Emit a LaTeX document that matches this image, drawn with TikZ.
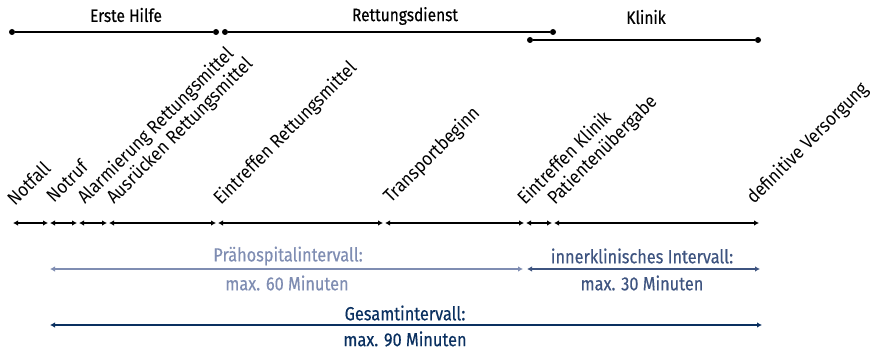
\documentclass[tikz,border=0pt]{standalone}
\usepackage{fontspec}
\setmainfont{Fira Sans}[FakeStretch=0.86,FakeBold=0.4]
\newfontfamily\leicht{Fira Sans}[FakeStretch=0.9]
\usetikzlibrary{arrows.meta}
\definecolor{praeblau}{RGB}{127,141,178}
\definecolor{klinikblau}{RGB}{62,84,128}
\definecolor{gesamtblau}{RGB}{10,48,96}

\begin{document}
\begin{tikzpicture}[x=1pt,y=-1pt,
  punkt/.style={circle,fill=black,inner sep=0pt,minimum size=6pt},
  phase/.style={line width=1.5pt,black},
  titel/.style={font=\fontsize{18}{18}\selectfont},
  ereignis/.style={rotate=45,anchor=base west,inner sep=0pt,font=\leicht\fontsize{18.8}{18.8}\selectfont},
  zeit/.style={line width=1.5pt,{Latex[length=5pt,width=5.5pt]}-{Latex[length=5pt,width=5.5pt]},shorten <=1pt,shorten >=1pt},
  intervall/.style={line width=1.7pt,{Latex[length=5pt,width=5.5pt]}-{Latex[length=5pt,width=5.5pt]}},
  info/.style={font=\fontsize{19}{19}\selectfont,align=center}]
\useasboundingbox (0,0) rectangle (874,353); % taille de l'image
% les phases en haut
\node[punkt] (eh1) at (12,32) {};
\node[punkt] (eh2) at (216,32) {};
\node[punkt] (rd1) at (225,32) {};
\node[punkt] (rd2) at (553,32) {};
\node[punkt] (kl1) at (530,40) {};
\node[punkt] (kl2) at (758,40) {};
\draw[phase] (eh1)--(eh2);
\draw[phase] (rd1)--(rd2);
\draw[phase] (kl1)--(kl2);
\node[titel] (ehtext) at (126,15) {Erste Hilfe};
\node[titel] (rdtext) at (405,16) {Rettungsdienst};
\node[titel] (kltext) at (646,17) {Klinik};
% les instants sur l'axe
\coordinate (t0) at (12,223);
\coordinate (t1) at (49,223);
\coordinate (t2) at (78,223);
\coordinate (t3) at (108,223);
\coordinate (t4) at (217,223);
\coordinate (t5) at (384,223);
\coordinate (t6) at (525,223);
\coordinate (t7) at (553,223);
\coordinate (t8) at (760,223);
\draw[zeit] (t0)--(t1);
\draw[zeit] (t1)--(t2);
\draw[zeit] (t2)--(t3);
\draw[zeit] (t3)--(t4);
\draw[zeit] (t4)--(t5);
\draw[zeit] (t5)--(t6);
\draw[zeit] (t6)--(t7);
\draw[zeit] (t7)--(t8);
\node[ereignis] (e0) at (15,207) {Notfall};
\node[ereignis] (e1) at (54,204) {Notruf};
\node[ereignis] (e2) at (85,205) {Alarmierung Rettungsmittel};
\node[ereignis] (e3) at (114,205) {Ausrücken Rettungsmittel};
\node[ereignis] (e4) at (221,206) {Eintreffen Rettungsmittel};
\node[ereignis] (e5) at (391,204) {Transportbeginn};
\node[ereignis] (e6) at (525,206) {Eintreffen Klinik};
\node[ereignis] (e7) at (555,206) {Patientenübergabe};
\node[ereignis] (e8) at (754,205) {definitive Versorgung};
% les intervalles en bas
\coordinate (p0) at (50,269);
\coordinate (p1) at (523,269);
\coordinate (k0) at (527,269);
\coordinate (k1) at (760,269);
\coordinate (g0) at (50,325);
\coordinate (g1) at (762,325);
\draw[intervall,praeblau] (p0)--(p1);
\draw[intervall,klinikblau] (k0)--(k1);
\draw[intervall,gesamtblau] (g0)--(g1);
\node[info,praeblau] (ptext1) at (288,256) {Prähospitalintervall:};
\node[info,praeblau] (ptext2) at (287,283) {max. 60 Minuten};
\node[info,klinikblau] (ktext1) at (642,256) {innerklinisches Intervall:};
\node[info,klinikblau] (ktext2) at (642,283) {max. 30 Minuten};
\node[info,gesamtblau] (gtext1) at (405,313) {Gesamtintervall:};
\node[info,gesamtblau] (gtext2) at (405,339) {max. 90 Minuten};
\end{tikzpicture}
\end{document}
